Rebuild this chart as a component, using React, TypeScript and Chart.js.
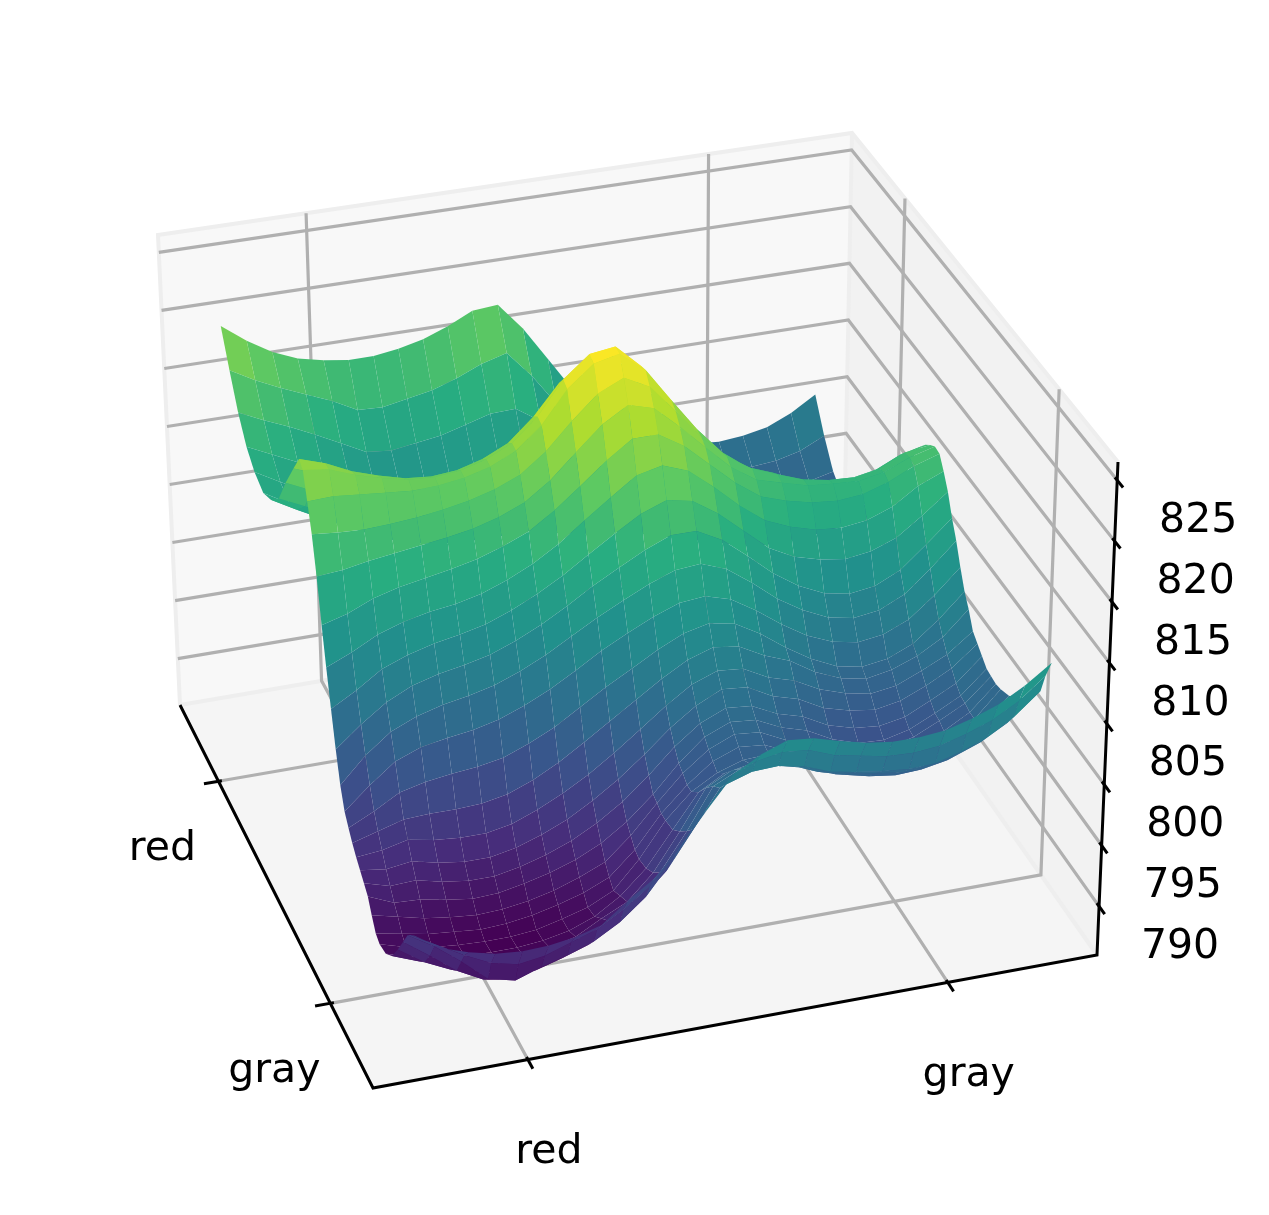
import React, { useEffect, useRef } from "react";
import { Chart, registerables } from "chart.js";
Chart.register(...registerables);

// Position of each surface row along the red-gray axis running to the left, as a share of the box
const rowPositions = [.06,.08,.095,.118,.145,.175,.205,.235,.253,.271,.288,.306,.324,.342,.36,.377,.395,.413,.431,.449,.467,.484,.502,.52,.538,.556,.574,.605,.65,.69,.735,.775,.82,.86,.90,.94,.98];
// Position of each surface column along the axis running to the right
const columnPositions = [.078,.114,.15,.186,.223,.259,.295,.331,.367,.403,.439,.476,.512,.548,.584,.62,.656,.692,.728,.765,.801,.837,.873,.909,.945];
// Surface heights, one row per rowPositions entry
const surfaceRows = [
[796.4,795,794.3,793.8,793.6,793.7,794,794.6,796.2,797.6,799.8,802.5,805,806.2,807,806.8,806.2,805.7,805.4,805.4,805.6,806.2,807,808.2,809.7],
[795.8,794.6,793.4,792.4,791.9,792.2,792.9,793.6,794.8,796.3,798.6,801.5,804,805,805.4,805.2,804.4,804,803.6,803.5,803.7,804.3,805.1,806.3,808],
[795.3,794,792.4,790.6,790.1,790.8,791.4,792.1,793.3,795,797.5,800.6,803,803.7,803.8,803.4,802.6,802.2,801.9,801.7,801.8,802.4,803.2,804.5,806.3],
[794,792.5,790.9,789.8,789.4,789.8,790.4,791.1,792.5,794,796,799,802,803,803.1,802.6,802,801.4,801,800.7,800.8,801.3,802.1,803.3,805.3],
[792.5,791.1,790.1,789.4,789.2,789.4,789.9,790.6,791.8,793,795,798,801.3,802.3,802.3,801.9,801,800.4,799.9,799.6,799.7,800.1,800.9,802.2,804.2],
[791,790.2,789.6,789.2,789,789.1,789.4,789.9,791,792,794,797,800.2,801.3,801.4,801.1,800.3,799.5,799,798.7,798.8,799.2,800,801.3,803.2],
[790.2,789.6,789.1,788.9,788.8,788.8,789,789.4,790.2,791.5,793.4,796.2,798.9,800.1,800.5,800.5,800.1,799.2,798.4,798,798,798.4,799.1,800.4,802.5],
[790,789.4,789,788.8,788.7,788.7,788.9,789.4,790,791,793.2,796,798,799.2,799.9,800,799.5,798.5,797.7,797.3,797.2,797.6,798.5,800,802.1],
[790.3,789.9,789.5,789.3,789.1,789.2,789.5,790,790.6,791.5,793.4,796,798,799.6,800.4,800.2,799.3,798.8,798,797.7,797.6,798,798.8,800,802],
[791.2,790.7,790.2,789.9,789.7,789.8,790.1,790.6,791.3,792.2,794,796.3,798.4,800,800.9,800.7,799.7,799.2,798.3,797.7,797.6,798.1,799.1,800.2,802.1],
[792.2,791.3,791.2,790.8,790.5,790.6,791,791.5,792.2,793.2,794.6,796.5,798.7,800.5,801.4,801.2,800.2,799.6,798.5,797.8,797.7,798.2,799.2,800.3,802.2],
[792.7,792.1,792.2,791.7,791.4,791.4,791.8,792.4,793.2,794.3,795.7,797.5,799.5,801.1,802,801.8,800.8,800.2,799.1,798.5,798.3,798.7,799.7,800.8,802.7],
[793.2,792.9,793.2,792.7,792.4,792.4,792.8,793.5,794.4,795.6,797,798.7,800.5,802,803,802.8,801.7,801.1,800,799.4,799.1,799.5,800.4,801.5,803.2],
[793.7,793.9,794.4,794,793.8,793.8,794.2,795,796,797.2,798.6,800.2,801.8,803.2,804,803.8,802.7,802.1,801,800.3,799.9,800.2,801.1,802.1,803.7],
[794.3,794.9,795.5,795.6,795.6,795.7,796.1,796.9,798,799.3,800.7,802.1,803.5,804.7,805.4,805.1,804,803.2,801.9,801,800.6,801,801.8,803,805],
[795,796,797.2,797.7,798,798.2,798.6,799.4,800.4,801.7,803,804.2,805.4,806.4,806.9,806.5,805.3,803.8,802.5,801.5,801.1,801.4,802.3,804,806],
[795.8,797.6,799.2,800,800.4,800.7,801.2,802,803,804.2,805.5,806.6,807.6,808.4,808.6,808,806.7,805.2,803.9,803,802.6,802.9,803.8,805.5,807.5],
[797.4,799.5,801.1,802,802.6,803,803.5,804.3,805.3,806.5,807.7,808.8,809.8,810.6,810.8,810,808.5,806.8,805.5,804.5,804.1,804.4,805.4,807.2,809.2],
[799.8,801.5,803,804,804.6,805,805.5,806.3,807.3,808.5,809.8,811,812.1,813,813,811.9,810.2,808.4,807,806,805.6,805.9,806.9,808.7,810.6],
[802.6,803.8,805.2,806,806.6,807,807.5,808.3,809.3,810.5,811.9,813.3,814.6,815.4,815,813.6,811.8,810,808.9,808.3,808,808.3,809.1,810.6,812.3],
[805.5,806.4,807.5,808.2,808.7,809,809.5,810.3,811.3,812.6,814.2,815.8,817.3,817.8,817,815.3,813.4,811.8,810.9,810.3,810.1,810.4,811.2,812.6,813.5],
[808.5,809.1,810,810.6,811,811.4,811.9,812.6,813.5,814.9,816.6,818.4,819.9,819.9,818.6,816.7,814.8,813.3,812.6,812.1,811.9,812.1,812.8,813.8,814.5],
[812,812.2,812.6,812.9,813.2,813.5,813.9,814.5,815.4,816.9,818.9,820.9,822.2,821.6,819.7,817.6,815.6,814.2,813.6,813,812.8,812.7,813.1,814,814.6],
[815,814.8,814.7,814.8,815,815.3,815.7,816.3,817.2,818.8,821,823,824,822.9,820.5,818,816,814.6,813.8,813,812.6,812.5,812.9,813.9,814.2],
[817.2,817.3,817.1,816.9,816.7,816.8,817.1,817.7,818.7,820.5,823.2,825,825.5,823.8,820.9,818.1,815.8,814.2,813.4,812.4,812,811.8,812.2,813.2,813.7],
[819.3,819,818.2,817.6,817.1,817,817.2,817.8,818.8,820.7,823.5,825.3,825.6,823.6,820.4,817.4,815,813.4,812.4,811.2,810.8,810.7,811.2,812.2,813],
[819.7,819,818,817.3,816.7,816.5,816.7,817.3,818.3,820.2,822.7,824.3,824.4,822.2,819.3,816.3,813.8,812.2,811.1,810,809.6,809.6,810,811,812],
[818,817.2,816.2,815.4,814.9,814.5,814.6,815,815.8,817.2,819,820.4,820,818.3,815.5,812.8,810.5,808.8,807.7,806.7,806.4,806.4,806.9,807.9,809.5],
[815.5,814.5,813.5,812.5,811.7,811,810.8,811,811.5,812.3,813.5,814,813,811.9,810,808.4,806.9,805.7,804.9,804.2,804,804,804.4,805.2,806.5],
[813,812,811,810,809,808.2,807.8,807.7,807.8,807.9,808,807.8,807,806.8,806.5,805.6,804.6,803.8,803.2,802.8,802.7,802.8,803.1,803.7,804.5],
[811.6,810.4,809.3,808.2,807.2,806.3,805.8,805.5,805.4,805.4,805.5,805,804.5,804.3,804,803.4,802.8,802.2,801.6,801,800.9,801,801.2,801.5,802],
[811,809.8,808.6,807.5,806.5,805.6,805.2,805,804.9,804.9,805,804.6,804,803.7,803,802.6,802.1,801.6,800.8,800,799.8,799.9,800,800.1,800.3],
[811.5,810.3,809.2,808.1,807,806,805.7,805.6,805.6,805.8,806,805.7,805.5,804.6,803.2,802.8,802.3,801.8,800.9,799.8,799.5,799.5,799.6,799.7,799.8],
[812.5,811.5,810.5,809.4,808.4,807.3,807,807.1,807.3,807.6,808,807.9,807.6,806,804.1,803.4,802.8,802.2,801.1,800,799.7,799.7,799.7,799.9,800],
[814.3,813.3,812.4,811.4,810.3,809.2,809,809.3,809.6,810.2,810.8,810.9,809.5,806.9,805.2,804.4,803.6,802.8,801.6,800.6,800.3,800.2,800.2,800.5,801],
[816.8,815.6,814.6,813.7,812.8,811.7,811.6,812,812.4,813.1,814,814.6,812.3,809.5,807,805.8,804.8,803.7,802.6,801.7,801.4,801.3,801.5,802,803],
[819.5,817.9,816.6,815.7,815.2,814.9,814.9,815.2,815.7,816.5,817.5,817.7,815.3,812.3,809.3,807.4,806,804.7,803.6,802.9,802.7,802.9,803.3,804.2,805.5],
];
const zTicks = [790,795,800,805,810,815,820,825];
const leftAxisTicks = [.205,.785];
const leftAxisLabels = ["gray","red"];
const rightAxisTicks = [.21,.79];
const rightAxisLabels = ["red","gray"];
const viridis = ["#440154","#472d7b","#3b528b","#2c728e","#21918c","#28ae80","#5ec962","#addc30","#fde725"];

const READING_BIAS = 1;
const Z_LOW = 786, Z_HIGH = 826.5, COLOR_LOW = 787.7, COLOR_HIGH = 824.5;
type P = [number, number];
// box corners in the order near, left, back, right
const FLOOR: P[] = [[373,1088],[180,705],[843,592],[1097,955]];
const TOP: P[] = [[358,582],[158,235],[852,133],[1118,462]];

function homography(q: P[]) {
  const [[x0,y0],[x1,y1],[x2,y2],[x3,y3]] = q;
  const sx=x0-x1+x2-x3, sy=y0-y1+y2-y3, dx1=x1-x2, dx2=x3-x2, dy1=y1-y2, dy2=y3-y2;
  const den=dx1*dy2-dx2*dy1;
  const g=(sx*dy2-dx2*sy)/den, h=(dx1*sy-sx*dy1)/den;
  const a=x1-x0+g*x1, b=x3-x0+h*x3, d=y1-y0+g*y1, e=y3-y0+h*y3;
  return (u:number,v:number):P=>{ const w=g*u+h*v+1; return [(a*u+b*v+x0)/w,(d*u+e*v+y0)/w]; };
}
const floorMap = homography(FLOOR), topMap = homography(TOP);
function project(u:number,v:number,z:number){
  const t=(z-Z_LOW)/(Z_HIGH-Z_LOW), f=floorMap(u,v), c=topMap(u,v);
  return {x:f[0]+(c[0]-f[0])*t,y:f[1]+(c[1]-f[1])*t};
}
function hexRgb(h:string){return [1,3,5].map(i=>parseInt(h.slice(i,i+2),16));}
function colorOf(z:number){
  const t=Math.min(1,Math.max(0,(z-COLOR_LOW)/(COLOR_HIGH-COLOR_LOW)))*(viridis.length-1);
  const i=Math.min(viridis.length-2,Math.floor(t)),f=t-i,a=hexRgb(viridis[i]),b=hexRgb(viridis[i+1]);
  return `rgb(${a.map((c,k)=>Math.round(c+(b[k]-c)*f)).join(",")})`;
}
const base={pointRadius:0,tension:0,spanGaps:false,clip:false as const};
function polygon(points:{x:number,y:number}[],color:string){
  return {...base,data:[...points,points[0]],fill:"shape",backgroundColor:color,borderColor:"rgba(0,0,0,0)",borderWidth:0};
}
function stroke(points:{x:number,y:number}[],color:string,width:number){
  return {...base,data:points,fill:false,borderColor:color,borderWidth:width,borderCapStyle:"butt"};
}
const GRID="#b0b0b0", EDGE="#eeeeee";
function buildDatasets(){
  const out:any[]=[];
  for(let i=0;i<rowPositions.length-1;i++)for(let j=0;j<columnPositions.length-1;j++){
    const c=[[i,j],[i+1,j],[i+1,j+1],[i,j+1]];
    const zs=c.map(([r,k])=>surfaceRows[r][k]-READING_BIAS);
    out.push(polygon(c.map(([r,k],n)=>project(rowPositions[r],columnPositions[k],zs[n])),colorOf(zs.reduce((s,v)=>s+v,0)/4)));
  }
  // axes and ticks
  out.push(stroke([project(1,0,Z_LOW),project(0,0,Z_LOW),project(0,1,Z_LOW),project(0,1,Z_HIGH)],"#000",3));
  leftAxisTicks.forEach(a=>out.push(stroke([project(a,-.021,Z_LOW),project(a,.005,Z_LOW)],"#000",3)));
  rightAxisTicks.forEach(b=>out.push(stroke([project(-.022,b,Z_LOW),project(.006,b,Z_LOW)],"#000",3)));
  zTicks.forEach(z=>out.push(stroke([project(-.02,1,z),project(.008,1,z)],"#000",3)));
  // grid
  zTicks.forEach(z=>out.push(stroke([project(1,0,z),project(1,1,z),project(0,1,z)],GRID,3.2)));
  leftAxisTicks.forEach(a=>out.push(stroke([project(a,0,Z_LOW),project(a,1,Z_LOW),project(a,1,Z_HIGH)],GRID,3.2)));
  rightAxisTicks.forEach(b=>out.push(stroke([project(0,b,Z_LOW),project(1,b,Z_LOW),project(1,b,Z_HIGH)],GRID,3.2)));
  // pane edges
  out.push(stroke([project(1,0,Z_LOW),project(1,0,Z_HIGH),project(1,1,Z_HIGH),project(0,1,Z_HIGH)],EDGE,4));
  out.push(stroke([project(1,0,Z_LOW),project(1,1,Z_LOW),project(0,1,Z_LOW)],EDGE,4));
  out.push(stroke([project(1,1,Z_LOW),project(1,1,Z_HIGH)],EDGE,4));
  // panes
  out.push(polygon([project(0,0,Z_LOW),project(1,0,Z_LOW),project(1,1,Z_LOW),project(0,1,Z_LOW)],"#f5f5f5"));
  out.push(polygon([project(1,0,Z_LOW),project(1,1,Z_LOW),project(1,1,Z_HIGH),project(1,0,Z_HIGH)],"#f8f8f8"));
  out.push(polygon([project(1,1,Z_LOW),project(0,1,Z_LOW),project(0,1,Z_HIGH),project(1,1,Z_HIGH)],"#f2f2f2"));
  return out;
}
const textPlugin={
  id:"axisText",
  afterDraw(chart:any){
    const {ctx,scales:{x,y}}=chart;
    const put=(s:string,p:{x:number,y:number},dx:number,dy:number)=>ctx.fillText(s,x.getPixelForValue(p.x)+dx,y.getPixelForValue(p.y)+dy);
    ctx.save();
    ctx.font='41px "DejaVu Sans"';ctx.fillStyle="#000";ctx.textAlign="center";ctx.textBaseline="middle";
    zTicks.forEach(z=>put(String(z),project(0,1,z),81,41));
    leftAxisTicks.forEach((a,i)=>put(leftAxisLabels[i],project(a,0,Z_LOW),-56,68));
    rightAxisTicks.forEach((b,i)=>put(rightAxisLabels[i],project(0,b,Z_LOW),21,93));
    ctx.restore();
  }
};
export default function App(){
  const ref=useRef<HTMLCanvasElement>(null);
  useEffect(()=>{
    const chart=new Chart(ref.current as any,{
      type:"line",
      data:{datasets:buildDatasets()},
      options:{
        animation:false,responsive:false,events:[],
        layout:{padding:0},
        plugins:{legend:{display:false},tooltip:{enabled:false},title:{display:false}},
        scales:{
          x:{type:"linear",min:0,max:1269,display:false},
          y:{type:"linear",min:0,max:1215,reverse:true,display:false},
        },
      } as any,
      plugins:[textPlugin],
    });
    return ()=>chart.destroy();
  },[]);
  return <canvas ref={ref} width={1269} height={1215} style={{position:"absolute",left:0,top:0,display:"block"}}/>;
}
